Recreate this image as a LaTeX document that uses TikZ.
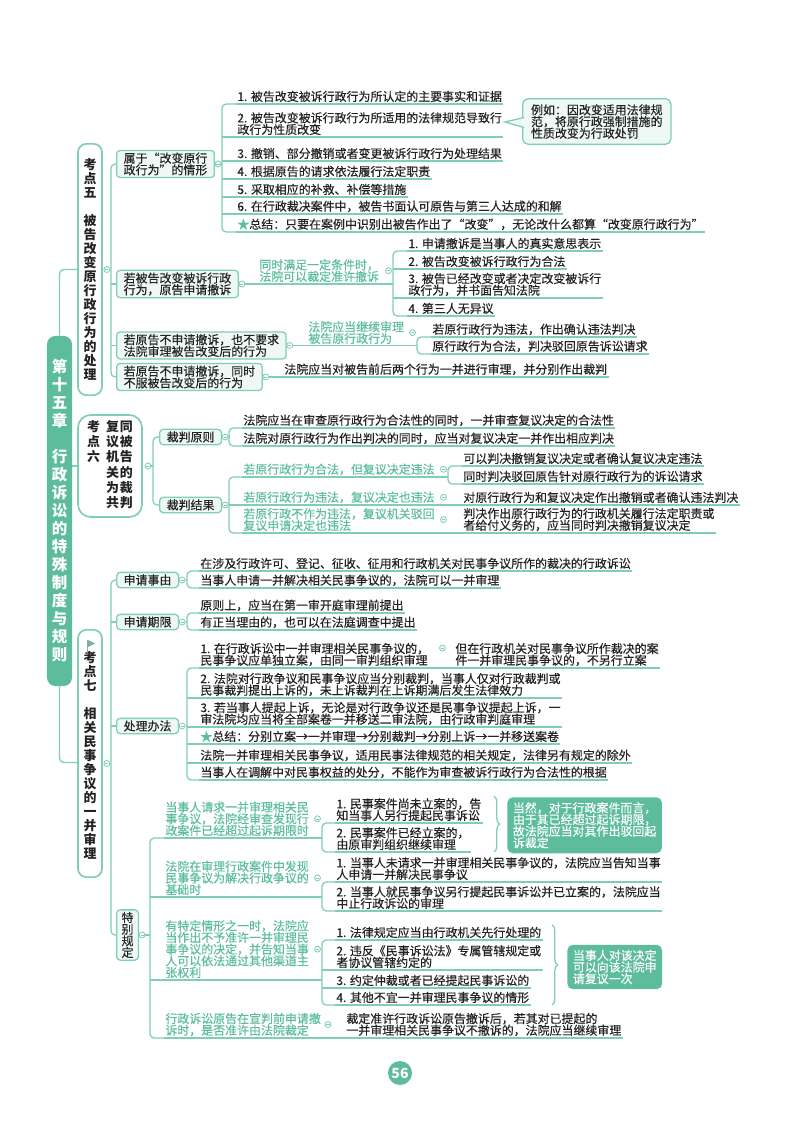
\documentclass[tikz,border=0pt]{standalone}
\usepackage{fontspec}
\setmainfont{Noto Sans CJK SC}
\usetikzlibrary{positioning, calc, decorations.pathreplacing}
\definecolor{LineGreen}{RGB}{128,206,184}
\definecolor{TextGreen}{RGB}{92,190,156}
\definecolor{DeepTeal}{RGB}{92,188,156}
\definecolor{PaleGreen}{RGB}{238,248,244}
\definecolor{InkGray}{RGB}{35,35,35}
\newcommand\itemfont{\fontsize{8.5pt}{8.3pt}\selectfont\addfontfeature{FakeBold=0.4}}
\newcommand\keyfont{\fontsize{9.2pt}{9.96pt}\selectfont\bfseries}
\newcommand\chapfont{\fontsize{11pt}{12.8pt}\selectfont\bfseries}
% short underline branch from a spine to an item / a tag
\newcommand\twig[2]{\draw[ln] (#2.south west -| #1) -- (#2.south west);}
\newcommand\tagtwig[2]{\draw[ln] (#2.west -| #1) -- (#2.west);}
\newcommand\gstar{\textcolor{TextGreen}{★}}

\begin{document}
\begin{tikzpicture}[x=0.025cm, y=-0.025cm,
  ln/.style={draw=LineGreen, line width=0.9pt},
  spine/.style={ln, rounded corners=3pt},
  item/.style={anchor=south west, inner xsep=0.8pt, inner ysep=1.2pt,
               align=left, font=\itemfont, text=InkGray},
  ul/.style={item, append after command={(\tikzlastnode.south west) edge[ln] (\tikzlastnode.south east)}},
  gnote/.style={item, text=TextGreen},
  tag/.style={draw=LineGreen, line width=0.9pt, fill=PaleGreen, rounded corners=2.5pt,
              anchor=west, inner xsep=5pt, inner ysep=1.5pt, align=left,
              font=\itemfont, text=InkGray},
  knob/.style={circle, draw=LineGreen, fill=white, line width=0.6pt, inner sep=0pt,
               minimum size=4.2pt,
               path picture={\draw[LineGreen, line width=0.4pt]
                 ([xshift=-1.1pt]path picture bounding box.center) --
                 ([xshift=1.1pt]path picture bounding box.center);}},
  keybox/.style={draw=LineGreen, line width=1.2pt, fill=white, rounded corners=6pt,
                 align=center, font=\keyfont, text=InkGray, inner sep=0pt},
  chapbox/.style={fill=DeepTeal, rounded corners=6pt, align=center, font=\chapfont,
                  text=white, inner sep=0pt},
  memo/.style={draw=LineGreen, line width=0.9pt, fill=PaleGreen, rounded corners=4pt,
               align=left, font=\itemfont, text=InkGray, inner xsep=6pt, inner ysep=4pt},
  tip/.style={fill=DeepTeal, rounded corners=4pt, align=left, font=\itemfont,
              text=white, inner xsep=4pt, inner ysep=3.5pt},
  brc/.style={ln, decorate, decoration={brace, amplitude=4pt}},
]
\fill[white] (0,0) rectangle (800,1124);
\useasboundingbox (0,0) rectangle (800,1124);

% chapter and key points
\node[chapbox, minimum width=0.625cm, minimum height=8.75cm] (ch) at (59.5,511)
  {第\\十\\五\\章\\~\\行\\政\\诉\\讼\\的\\特\\殊\\制\\度\\与\\规\\则};
\node[keybox, minimum width=0.6cm, minimum height=6.28cm] (k5) at (90,269.5)
  {考\\点\\五\\~\\被\\告\\改\\变\\原\\行\\政\\行\\为\\的\\处\\理};
\node[keybox, minimum width=1.6cm, minimum height=2.55cm, rounded corners=9pt] (k6) at (110,466)
  {\renewcommand\arraystretch{0.97}%
   \begin{tabular}{@{}c@{\hspace{4.3pt}}c@{\hspace{0.7pt}}c@{}}
   考&复&同\\ 点&议&被\\ 六&机&告\\ &关&的\\ &为&裁\\ &共&判
   \end{tabular}};
\node[keybox, minimum width=0.6cm, minimum height=6.18cm] (k7) at (90,753.5)
  {~\\考\\点\\七\\~\\相\\关\\民\\事\\争\\议\\的\\一\\并\\审\\理};
\fill[LineGreen!60!gray] (87,640) rectangle (88.2,653);
\fill[LineGreen!60!gray] (88.2,640) -- (95,643.5) -- (88.2,647) -- cycle;

\draw[spine] (ch.north) |- (k5.west);
\draw[ln] (ch.east |- k6.west) -- (k6.west);
\draw[spine] (ch.south) |- ($(k7.west)+(0,9)$);

% ---- key point 5
\node[knob] (k5-k) at ($(k5.east)+(4,0)$) {};
\coordinate (s5) at (111,0);
\node[tag] (ka) at (116,164) {属于“改变原行\\政行为”的情形};
\node[tag] (kb) at (116,284) {若被告改变被诉行政\\行为，原告申请撤诉};
\node[tag] (kc) at (116,345.5) {若原告不申请撤诉，也不要求\\法院审理被告改变后的行为};
\node[tag] (kd) at (116,377) {若原告不申请撤诉，同时\\不服被告改变后的行为};
\draw[spine] (ka.west) -- (ka.west -| s5) -- (kd.west -| s5) -- (kd.west);
\tagtwig{s5}{kb} \tagtwig{s5}{kc}
\draw[ln] (k5-k.east) -- (k5-k.east -| s5);

\node[knob] (ka-k) at ($(ka.east)+(3,0)$) {};
\coordinate (s5a) at (222,0);
\node[ul] (a1) at (236,104) {1. 被告改变被诉行政行为所认定的主要事实和证据};
\node[ul] (a2) at (236,137) {2. 被告改变被诉行政行为所适用的法律规范导致行\\政行为性质改变};
\node[ul] (a3) at (236,161) {3. 撤销、部分撤销或者变更被诉行政行为处理结果};
\node[ul] (a4) at (236,179) {4. 根据原告的请求依法履行法定职责};
\node[ul] (a5) at (236,197) {5. 采取相应的补救、补偿等措施};
\node[ul] (a6) at (236,214) {6. 在行政裁决案件中，被告书面认可原告与第三人达成的和解};
\node[ul] (a7) at (236,232) {\gstar 总结：只要在案例中识别出被告作出了“改变”，无论改什么都算“改变原行政行为”};
\draw[spine] (a1.south west) -- (a1.south west -| s5a) -- (a7.south west -| s5a) -- (a7.south west);
\twig{s5a}{a2} \twig{s5a}{a3} \twig{s5a}{a4} \twig{s5a}{a5} \twig{s5a}{a6}
\draw[ln] (ka-k.east) -- (ka-k.east -| s5a);

\node[memo, anchor=north west] (ex) at (522,98) {例如：因改变适用法律规\\范，将原行政强制措施的\\性质改变为行政处罚};
\coordinate (ex-tip) at (505,122);
\filldraw[ln, fill=PaleGreen] ($(ex.west)+(2,-4)$) -- (ex-tip) -- ($(ex.west)+(2,6)$);

\node[knob] (kb-k) at ($(kb.east)+(3,0)$) {};
\coordinate (s5b) at (393,0);
\node[gnote] (gb) at (258,284) {同时满足一定条件时，\\法院可以裁定准许撤诉};
\path (gb.east -| s5b) ++(-4.5,0) node[knob] (gb-k) {};
\node[ul] (b1) at (407,251) {1. 申请撤诉是当事人的真实意思表示};
\node[ul] (b2) at (407,269) {2. 被告改变被诉行政行为合法};
\node[ul] (b3) at (407,298) {3. 被告已经改变或者决定改变被诉行\\政行为，并书面告知法院};
\node[ul] (b4) at (407,316) {4. 第三人无异议};
\draw[spine] (b1.south west) -- (b1.south west -| s5b) -- (b4.south west -| s5b) -- (b4.south west);
\twig{s5b}{b2} \twig{s5b}{b3}
\draw[ln] (kb-k.east) -- (kb-k.east -| s5b);

\node[knob] (kc-k) at ($(kc.east)+(3,0)$) {};
\coordinate (s5c) at (417,0);
\node[gnote] (gc) at (307,346) {法院应当继续审理\\被告原行政行为};
\path (gc.east -| s5c) ++(-4.5,0) node[knob] (gc-k) {};
\node[ul] (cc1) at (431,337) {若原行政行为违法，作出确认违法判决};
\node[ul] (cc2) at (431,354) {原行政行为合法，判决驳回原告诉讼请求};
\draw[spine] (cc1.south west) -- (cc1.south west -| s5c) -- (cc2.south west -| s5c) -- (cc2.south west);
\draw[ln] (kc-k.east) -- (kc-k.east -| s5c);

\node[knob] (kd-k) at ($(kd.east)+(3,0)$) {};
\node[ul] (d1) at (283,377) {法院应当对被告前后两个行为一并进行审理，并分别作出裁判};
\draw[ln] (kd-k.east) -- (d1.south west);

% ---- key point 6
\node[knob] (k6-k) at ($(k6.east)+(5,0)$) {};
\coordinate (s6) at (153,0);
\node[tag] (kr) at (159,437) {裁判原则};
\node[tag] (kj) at (159,505) {裁判结果};
\draw[spine] (kr.west) -- (kr.west -| s6) -- (kj.west -| s6) -- (kj.west);
\draw[ln] (k6-k.east) -- (k6-k.east -| s6);

\node[knob] (kr-k) at ($(kr.east)+(3,0)$) {};
\coordinate (s6r) at (229,0);
\node[ul] (r1) at (242,428) {法院应当在审查原行政行为合法性的同时，一并审查复议决定的合法性};
\node[ul] (r2) at (242,446) {法院对原行政行为作出判决的同时，应当对复议决定一并作出相应判决};
\draw[spine] (r1.south west) -- (r1.south west -| s6r) -- (r2.south west -| s6r) -- (r2.south west);
\draw[ln] (kr-k.east) -- (kr-k.east -| s6r);

\node[knob] (kj-k) at ($(kj.east)+(3,0)$) {};
\coordinate (s6j) at (229,0);
\coordinate (s6x) at (448,0);
\node[gnote] (j1) at (242,477) {若原行政行为合法，但复议决定违法};
\node[gnote] (j2) at (242,505) {若原行政行为违法，复议决定也违法};
\node[gnote] (j3) at (242,533) {若原行政不作为违法，复议机关驳回\\复议申请决定也违法};
\draw[spine] (j1.south west) -- (j1.south west -| s6j) -- (j3.south west -| s6j) -- (j3.south west);
\twig{s6j}{j2}
\draw[ln] (kj-k.east) -- (kj-k.east -| s6j);

\path (j1.east -| s6x) ++(-4.5,0) node[knob] (j1-k) {};
\node[ul] (j1a) at (462,466) {可以判决撤销复议决定或者确认复议决定违法};
\node[ul] (j1b) at (462,484) {同时判决驳回原告针对原行政行为的诉讼请求};
\draw[spine] (j1a.south west) -- (j1a.south west -| s6x) -- (j1b.south west -| s6x) -- (j1b.south west);
\draw[ln] (j1.south west) -- (j1.south west -| s6x);

\path (j2.east -| s6x) ++(-4.5,0) node[knob] (j2-k) {};
\node[ul] (j2a) at (462,505) {对原行政行为和复议决定作出撤销或者确认违法判决};
\draw[ln] (j2.south west) -- (j2a.south west);

\path (j3.east -| s6x) ++(-4.5,0) node[knob] (j3-k) {};
\node[ul] (j3a) at (462,533) {判决作出原行政行为的行政机关履行法定职责或\\者给付义务的，应当同时判决撤销复议决定};
\draw[ln] (j3.south west) -- (j3a.south west);

% ---- key point 7
\node[knob] (k7-k) at ($(k7.east)+(4,10)$) {};
\coordinate (s7) at (111,0);
\node[tag] (ksy) at (116,580) {申请事由};
\node[tag] (kqx) at (116,622) {申请期限};
\node[tag] (kcl) at (116,726) {处理办法};
\node[tag, align=center, inner xsep=3.5pt] (ktb) at (116,935) {特\\别\\规\\定};
\draw[spine] (ksy.west) -- (ksy.west -| s7) -- (ktb.west -| s7) -- (ktb.west);
\tagtwig{s7}{kqx} \tagtwig{s7}{kcl}
\draw[ln] (k7-k.east) -- (k7-k.east -| s7);

\coordinate (s7a) at (187,0);
\node[knob] (ksy-k) at ($(ksy.east)+(3,0)$) {};
\node[ul] (y1) at (199,571) {在涉及行政许可、登记、征收、征用和行政机关对民事争议所作的裁决的行政诉讼};
\node[ul] (y2) at (199,588) {当事人申请一并解决相关民事争议的，法院可以一并审理};
\draw[spine] (y1.south west) -- (y1.south west -| s7a) -- (y2.south west -| s7a) -- (y2.south west);
\draw[ln] (ksy-k.east) -- (ksy-k.east -| s7a);

\node[knob] (kqx-k) at ($(kqx.east)+(3,0)$) {};
\node[ul] (q1) at (199,613) {原则上，应当在第一审开庭审理前提出};
\node[ul] (q2) at (199,630) {有正当理由的，也可以在法庭调查中提出};
\draw[spine] (q1.south west) -- (q1.south west -| s7a) -- (q2.south west -| s7a) -- (q2.south west);
\draw[ln] (kqx-k.east) -- (kqx-k.east -| s7a);

\node[knob] (kcl-k) at ($(kcl.east)+(3,0)$) {};
\node[ul] (h1) at (199,668) {1. 在行政诉讼中一并审理相关民事争议的，\\民事争议应单独立案，由同一审判组织审理};
\node[knob] (h1-k) at ($(h1.north east)+(12,7)$) {};
\node[ul] (h1a) at (454,668) {但在行政机关对民事争议所作裁决的案\\件一并审理民事争议的，不另行立案};
\draw[ln] (h1.south east) -- (h1a.south west);
\node[ul] (h2) at (199,698) {2. 法院对行政争议和民事争议应当分别裁判，当事人仅对行政裁判或\\民事裁判提出上诉的，未上诉裁判在上诉期满后发生法律效力};
\node[ul] (h3) at (199,727) {3. 若当事人提起上诉，无论是对行政争议还是民事争议提起上诉，一\\审法院均应当将全部案卷一并移送二审法院，由行政审判庭审理};
\node[ul] (h4) at (199,744) {\gstar 总结：分别立案→一并审理→分别裁判→分别上诉→一并移送案卷};
\node[ul] (h5) at (199,763) {法院一并审理相关民事争议，适用民事法律规范的相关规定，法律另有规定的除外};
\node[ul] (h6) at (199,780) {当事人在调解中对民事权益的处分，不能作为审查被诉行政行为合法性的根据};
\draw[spine] (h1.south west) -- (h1.south west -| s7a) -- (h6.south west -| s7a) -- (h6.south west);
\twig{s7a}{h2} \twig{s7a}{h3} \twig{s7a}{h4} \twig{s7a}{h5}
\draw[ln] (kcl-k.east) -- (kcl-k.east -| s7a);

\node[knob] (ktb-k) at ($(ktb.east)+(3,0)$) {};
\coordinate (s7d) at (150,0);
\coordinate (s7e) at (322,0);
\node[gnote] (t1) at (164,838) {当事人请求一并审理相关民\\事争议，法院经审查发现行\\政案件已经超过起诉期限时};
\node[gnote] (t2) at (164,897) {法院在审理行政案件中发现\\民事争议为解决行政争议的\\基础时};
\node[gnote] (t3) at (164,980) {有特定情形之一时，法院应\\当作出不予准许一并审理民\\事争议的决定，并告知当事\\人可以依法通过其他渠道主\\张权利};
\node[gnote] (t4) at (164,1038) {行政诉讼原告在宣判前申请撤\\诉时，是否准许由法院裁定};
\draw[spine] (t1.south west) -- (t1.south west -| s7d) -- (t4.south west -| s7d) -- (t4.south west);
\twig{s7d}{t2} \twig{s7d}{t3}
\draw[ln] (ktb-k.east) -- (ktb-k.east -| s7d);

\path (t1.east -| s7e) ++(-4.5,0) node[knob] (t1-k) {};
\node[ul] (t1a) at (335,823) {1. 民事案件尚未立案的，告\\知当事人另行提起民事诉讼};
\node[ul] (t1b) at (335,852) {2. 民事案件已经立案的，\\由原审判组织继续审理};
\draw[spine] (t1a.south west) -- (t1a.south west -| s7e) -- (t1b.south west -| s7e) -- (t1b.south west);
\draw[ln] (t1.south west) -- (t1.south west -| s7e);
\coordinate (br1) at (494,0);
\draw[brc] (t1a.north -| br1) -- (t1b.south -| br1);
\node[tip, anchor=north west] (n1) at (507,797) {当然，对于行政案件而言，\\由于其已经超过起诉期限，\\故法院应当对其作出驳回起\\诉裁定};

\path (t2.east -| s7e) ++(-4.5,0) node[knob] (t2-k) {};
\node[ul] (t2a) at (335,882) {1. 当事人未请求一并审理相关民事争议的，法院应当告知当事\\人申请一并解决民事争议};
\node[ul] (t2b) at (335,911) {2. 当事人就民事争议另行提起民事诉讼并已立案的，法院应当\\中止行政诉讼的审理};
\draw[spine] (t2a.south west) -- (t2a.south west -| s7e) -- (t2b.south west -| s7e) -- (t2b.south west);
\draw[ln] (t2.south west) -- (t2.south west -| s7e);

\path (t3.east -| s7e) ++(-4.5,0) node[knob] (t3-k) {};
\node[ul] (t3a) at (335,940) {1. 法律规定应当由行政机关先行处理的};
\node[ul] (t3b) at (335,970) {2. 违反《民事诉讼法》专属管辖规定或\\者协议管辖约定的};
\node[ul] (t3c) at (335,988) {3. 约定仲裁或者已经提起民事诉讼的};
\node[ul] (t3d) at (335,1005) {4. 其他不宜一并审理民事争议的情形};
\draw[spine] (t3a.south west) -- (t3a.south west -| s7e) -- (t3d.south west -| s7e) -- (t3d.south west);
\twig{s7e}{t3b} \twig{s7e}{t3c}
\draw[ln] (t3.south west) -- (t3.south west -| s7e);
\coordinate (br2) at (552,0);
\draw[brc] (t3a.north -| br2) -- (t3d.south -| br2);
\node[tip, anchor=west] (n2) at (567,967) {当事人对该决定\\可以向该法院申\\请复议一次};

\path (t4.east -| s7e) ++(6,0) node[knob] (t4-k) {};
\node[ul] (t4a) at (345,1038) {裁定准许行政诉讼原告撤诉后，若其对已提起的\\一并审理相关民事争议不撤诉的，法院应当继续审理};
\draw[ln] (t4.south west) -- (t4a.south west);

% page number
\node[circle, fill=DeepTeal, text=white, font=\fontsize{10pt}{10pt}\selectfont\bfseries,
      minimum size=0.6cm, inner sep=0pt] (pg) at (400,1073) {56};
\end{tikzpicture}
\end{document}
